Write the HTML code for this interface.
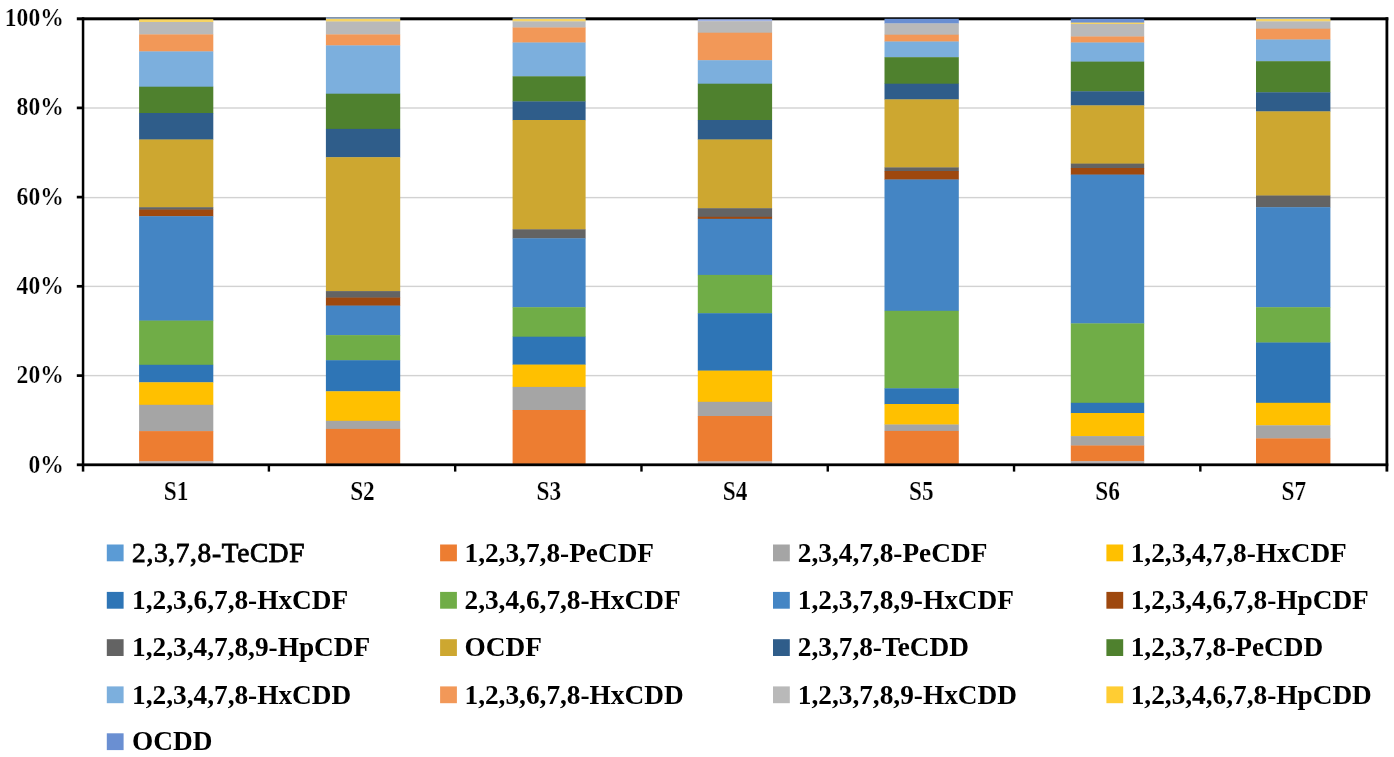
<!DOCTYPE html>
<html lang="en"><head><meta charset="utf-8"><title>PCDD/F congener profile</title>
<style>html,body{margin:0;padding:0;background:#fff}body{width:1394px;height:757px;overflow:hidden}svg{display:block}text{font-family:"Liberation Serif","Times New Roman",serif;font-weight:bold;fill:#000}</style>
</head><body>
<svg width="1394" height="757" viewBox="0 0 1394 757">
<rect width="1394" height="757" fill="#fff"/>
<g fill="#d2d2d2">
<rect x="84" y="107.30" width="1301" height="1.4"/>
<rect x="84" y="196.90" width="1301" height="1.4"/>
<rect x="84" y="285.70" width="1301" height="1.4"/>
<rect x="84" y="374.90" width="1301" height="1.4"/>
</g>
<g fill="#000">
<rect x="76.8" y="17.3" width="1311.5" height="3"/>
<rect x="81.8" y="17.3" width="2.5" height="454.3"/>
<rect x="1385.5" y="17.3" width="2.8" height="454.3"/>
<rect x="76.8" y="106.55" width="6" height="2.7"/>
<rect x="76.8" y="195.75" width="6" height="2.7"/>
<rect x="76.8" y="284.95" width="6" height="2.7"/>
<rect x="76.8" y="374.25" width="6" height="2.7"/>
<rect x="267.69" y="465" width="2.4" height="6.6"/>
<rect x="453.98" y="465" width="2.4" height="6.6"/>
<rect x="640.27" y="465" width="2.4" height="6.6"/>
<rect x="826.56" y="465" width="2.4" height="6.6"/>
<rect x="1012.85" y="465" width="2.4" height="6.6"/>
<rect x="1199.14" y="465" width="2.4" height="6.6"/>
</g>
<g>
<rect x="139.1" y="19.25" width="74.20" height="3.05" fill="#F6D465"/>
<rect x="139.1" y="22.0" width="74.20" height="12.70" fill="#B9B9B9"/>
<rect x="139.1" y="34.4" width="74.20" height="17.30" fill="#F29858"/>
<rect x="139.1" y="51.4" width="74.20" height="35.60" fill="#7CAFDD"/>
<rect x="139.1" y="86.7" width="74.20" height="26.60" fill="#4F812E"/>
<rect x="139.1" y="113.0" width="74.20" height="26.80" fill="#2F5D8A"/>
<rect x="139.1" y="139.5" width="74.20" height="68.00" fill="#CDA730"/>
<rect x="139.1" y="207.2" width="74.20" height="2.70" fill="#636363"/>
<rect x="139.1" y="209.6" width="74.20" height="6.90" fill="#9E480E"/>
<rect x="139.1" y="216.2" width="74.20" height="104.70" fill="#4485C4"/>
<rect x="139.1" y="320.6" width="74.20" height="44.50" fill="#70AD47"/>
<rect x="139.1" y="364.8" width="74.20" height="17.80" fill="#2E75B6"/>
<rect x="139.1" y="382.3" width="74.20" height="22.80" fill="#FFC000"/>
<rect x="139.1" y="404.8" width="74.20" height="26.60" fill="#A5A5A5"/>
<rect x="139.1" y="431.1" width="74.20" height="30.50" fill="#ED7D31"/>
<rect x="139.1" y="461.3" width="74.20" height="2.60" fill="#B4B0B4"/>
</g>
<g>
<rect x="325.9" y="17.2" width="74.30" height="2.00" fill="#8FA6C4"/>
<rect x="325.9" y="18.9" width="74.30" height="2.90" fill="#F6D465"/>
<rect x="325.9" y="21.5" width="74.30" height="13.20" fill="#B9B9B9"/>
<rect x="325.9" y="34.4" width="74.30" height="11.30" fill="#F29858"/>
<rect x="325.9" y="45.4" width="74.30" height="48.60" fill="#7CAFDD"/>
<rect x="325.9" y="93.7" width="74.30" height="35.50" fill="#4F812E"/>
<rect x="325.9" y="128.9" width="74.30" height="28.60" fill="#2F5D8A"/>
<rect x="325.9" y="157.2" width="74.30" height="134.20" fill="#CDA730"/>
<rect x="325.9" y="291.1" width="74.30" height="6.80" fill="#636363"/>
<rect x="325.9" y="297.6" width="74.30" height="8.30" fill="#9E480E"/>
<rect x="325.9" y="305.6" width="74.30" height="29.80" fill="#4485C4"/>
<rect x="325.9" y="335.1" width="74.30" height="25.40" fill="#70AD47"/>
<rect x="325.9" y="360.2" width="74.30" height="31.40" fill="#2E75B6"/>
<rect x="325.9" y="391.3" width="74.30" height="29.80" fill="#FFC000"/>
<rect x="325.9" y="420.8" width="74.30" height="8.40" fill="#A5A5A5"/>
<rect x="325.9" y="428.9" width="74.30" height="35.00" fill="#ED7D31"/>
</g>
<g>
<rect x="512.6" y="17.4" width="73.00" height="1.90" fill="#8FA6C4"/>
<rect x="512.6" y="19.0" width="73.00" height="2.70" fill="#F6D465"/>
<rect x="512.6" y="21.4" width="73.00" height="6.40" fill="#B9B9B9"/>
<rect x="512.6" y="27.5" width="73.00" height="15.30" fill="#F29858"/>
<rect x="512.6" y="42.5" width="73.00" height="34.10" fill="#7CAFDD"/>
<rect x="512.6" y="76.3" width="73.00" height="25.40" fill="#4F812E"/>
<rect x="512.6" y="101.4" width="73.00" height="18.90" fill="#2F5D8A"/>
<rect x="512.6" y="120.0" width="73.00" height="109.60" fill="#CDA730"/>
<rect x="512.6" y="229.3" width="73.00" height="9.30" fill="#636363"/>
<rect x="512.6" y="238.3" width="73.00" height="69.20" fill="#4485C4"/>
<rect x="512.6" y="307.2" width="73.00" height="29.80" fill="#70AD47"/>
<rect x="512.6" y="336.7" width="73.00" height="28.20" fill="#2E75B6"/>
<rect x="512.6" y="364.6" width="73.00" height="22.60" fill="#FFC000"/>
<rect x="512.6" y="386.9" width="73.00" height="23.40" fill="#A5A5A5"/>
<rect x="512.6" y="410.0" width="73.00" height="53.90" fill="#ED7D31"/>
</g>
<g>
<rect x="697.8" y="19.2" width="74.30" height="2.30" fill="#A3B4E6"/>
<rect x="697.8" y="21.2" width="74.30" height="11.80" fill="#B9B9B9"/>
<rect x="697.8" y="32.7" width="74.30" height="27.80" fill="#F29858"/>
<rect x="697.8" y="60.2" width="74.30" height="23.80" fill="#7CAFDD"/>
<rect x="697.8" y="83.7" width="74.30" height="36.60" fill="#4F812E"/>
<rect x="697.8" y="120.0" width="74.30" height="19.80" fill="#2F5D8A"/>
<rect x="697.8" y="139.5" width="74.30" height="69.00" fill="#CDA730"/>
<rect x="697.8" y="208.2" width="74.30" height="8.90" fill="#636363"/>
<rect x="697.8" y="216.8" width="74.30" height="2.30" fill="#9E480E"/>
<rect x="697.8" y="218.8" width="74.30" height="56.40" fill="#4485C4"/>
<rect x="697.8" y="274.9" width="74.30" height="38.60" fill="#70AD47"/>
<rect x="697.8" y="313.2" width="74.30" height="57.70" fill="#2E75B6"/>
<rect x="697.8" y="370.6" width="74.30" height="31.50" fill="#FFC000"/>
<rect x="697.8" y="401.8" width="74.30" height="14.50" fill="#A5A5A5"/>
<rect x="697.8" y="416.0" width="74.30" height="45.70" fill="#ED7D31"/>
<rect x="697.8" y="461.4" width="74.30" height="2.50" fill="#B4B0B4"/>
</g>
<g>
<rect x="884.5" y="18.8" width="74.30" height="4.90" fill="#6A8FD2"/>
<rect x="884.5" y="23.4" width="74.30" height="11.60" fill="#B9B9B9"/>
<rect x="884.5" y="34.7" width="74.30" height="7.10" fill="#F29858"/>
<rect x="884.5" y="41.5" width="74.30" height="16.00" fill="#7CAFDD"/>
<rect x="884.5" y="57.2" width="74.30" height="26.80" fill="#4F812E"/>
<rect x="884.5" y="83.7" width="74.30" height="16.00" fill="#2F5D8A"/>
<rect x="884.5" y="99.4" width="74.30" height="68.30" fill="#CDA730"/>
<rect x="884.5" y="167.4" width="74.30" height="3.90" fill="#636363"/>
<rect x="884.5" y="171.0" width="74.30" height="8.80" fill="#9E480E"/>
<rect x="884.5" y="179.5" width="74.30" height="131.60" fill="#4485C4"/>
<rect x="884.5" y="310.8" width="74.30" height="77.80" fill="#70AD47"/>
<rect x="884.5" y="388.3" width="74.30" height="16.00" fill="#2E75B6"/>
<rect x="884.5" y="404.0" width="74.30" height="20.80" fill="#FFC000"/>
<rect x="884.5" y="424.5" width="74.30" height="6.70" fill="#A5A5A5"/>
<rect x="884.5" y="430.9" width="74.30" height="33.00" fill="#ED7D31"/>
</g>
<g>
<rect x="1070.8" y="18.8" width="73.40" height="4.10" fill="#6A8FD2"/>
<rect x="1070.8" y="22.6" width="73.40" height="1.70" fill="#F6D465"/>
<rect x="1070.8" y="24.0" width="73.40" height="12.80" fill="#B9B9B9"/>
<rect x="1070.8" y="36.5" width="73.40" height="6.30" fill="#F29858"/>
<rect x="1070.8" y="42.5" width="73.40" height="19.40" fill="#7CAFDD"/>
<rect x="1070.8" y="61.6" width="73.40" height="30.00" fill="#4F812E"/>
<rect x="1070.8" y="91.3" width="73.40" height="14.40" fill="#2F5D8A"/>
<rect x="1070.8" y="105.4" width="73.40" height="58.50" fill="#CDA730"/>
<rect x="1070.8" y="163.6" width="73.40" height="4.70" fill="#636363"/>
<rect x="1070.8" y="168.0" width="73.40" height="6.90" fill="#9E480E"/>
<rect x="1070.8" y="174.6" width="73.40" height="149.10" fill="#4485C4"/>
<rect x="1070.8" y="323.4" width="73.40" height="79.70" fill="#70AD47"/>
<rect x="1070.8" y="402.8" width="73.40" height="10.50" fill="#2E75B6"/>
<rect x="1070.8" y="413.0" width="73.40" height="23.40" fill="#FFC000"/>
<rect x="1070.8" y="436.1" width="73.40" height="9.70" fill="#A5A5A5"/>
<rect x="1070.8" y="445.5" width="73.40" height="16.00" fill="#ED7D31"/>
<rect x="1070.8" y="461.2" width="73.40" height="2.70" fill="#B4B0B4"/>
</g>
<g>
<rect x="1256.0" y="17.4" width="74.40" height="1.90" fill="#8FA6C4"/>
<rect x="1256.0" y="19.0" width="74.40" height="2.70" fill="#F6D465"/>
<rect x="1256.0" y="21.4" width="74.40" height="7.60" fill="#B9B9B9"/>
<rect x="1256.0" y="28.7" width="74.40" height="11.10" fill="#F29858"/>
<rect x="1256.0" y="39.5" width="74.40" height="22.00" fill="#7CAFDD"/>
<rect x="1256.0" y="61.2" width="74.40" height="31.40" fill="#4F812E"/>
<rect x="1256.0" y="92.3" width="74.40" height="19.40" fill="#2F5D8A"/>
<rect x="1256.0" y="111.4" width="74.40" height="84.40" fill="#CDA730"/>
<rect x="1256.0" y="195.5" width="74.40" height="12.00" fill="#636363"/>
<rect x="1256.0" y="207.2" width="74.40" height="100.30" fill="#4485C4"/>
<rect x="1256.0" y="307.2" width="74.40" height="35.60" fill="#70AD47"/>
<rect x="1256.0" y="342.5" width="74.40" height="60.60" fill="#2E75B6"/>
<rect x="1256.0" y="402.8" width="74.40" height="22.80" fill="#FFC000"/>
<rect x="1256.0" y="425.3" width="74.40" height="13.40" fill="#A5A5A5"/>
<rect x="1256.0" y="438.4" width="74.40" height="25.50" fill="#ED7D31"/>
</g>
<rect x="76.8" y="463.4" width="1311.5" height="2.8" fill="#000"/>
<g font-size="23.6" text-anchor="end" stroke="#fff" stroke-width="0.22">
<text transform="translate(63.8,26.00) scale(1,1.11)">100%</text>
<text transform="translate(63.8,115.20) scale(1,1.11)">80%</text>
<text transform="translate(63.8,204.90) scale(1,1.11)">60%</text>
<text transform="translate(63.8,294.10) scale(1,1.11)">40%</text>
<text transform="translate(63.8,383.30) scale(1,1.11)">20%</text>
<text transform="translate(63.8,472.50) scale(1,1.11)">0%</text>
</g>
<g font-size="23.3" text-anchor="middle" stroke="#fff" stroke-width="0.22">
<text transform="translate(176.14,500.3) scale(1,1.13)">S1</text>
<text transform="translate(362.44,500.3) scale(1,1.13)">S2</text>
<text transform="translate(548.72,500.3) scale(1,1.13)">S3</text>
<text transform="translate(735.01,500.3) scale(1,1.13)">S4</text>
<text transform="translate(921.30,500.3) scale(1,1.13)">S5</text>
<text transform="translate(1107.60,500.3) scale(1,1.13)">S6</text>
<text transform="translate(1293.88,500.3) scale(1,1.13)">S7</text>
</g>
<g font-size="27.3">
<rect x="106.8" y="544.50" width="16.8" height="16.8" fill="#5B9BD5"/>
<text x="132.1" y="561.70" style="font-weight:normal;letter-spacing:0.68px" stroke="#000" stroke-width="0.85">2,3,7,8-TeCDF</text>
<rect x="440.1" y="544.50" width="16.8" height="16.8" fill="#ED7D31"/>
<text x="464.5" y="561.70">1,2,3,7,8-PeCDF</text>
<rect x="773.0" y="544.50" width="16.8" height="16.8" fill="#A5A5A5"/>
<text x="797.8" y="561.70">2,3,4,7,8-PeCDF</text>
<rect x="1106.4" y="544.50" width="16.8" height="16.8" fill="#FFC000"/>
<text x="1130.7" y="561.70">1,2,3,4,7,8-HxCDF</text>
<rect x="106.8" y="591.90" width="16.8" height="16.8" fill="#2E75B6"/>
<text x="132.1" y="609.10">1,2,3,6,7,8-HxCDF</text>
<rect x="440.1" y="591.90" width="16.8" height="16.8" fill="#70AD47"/>
<text x="464.5" y="609.10">2,3,4,6,7,8-HxCDF</text>
<rect x="773.0" y="591.90" width="16.8" height="16.8" fill="#4485C4"/>
<text x="797.8" y="609.10">1,2,3,7,8,9-HxCDF</text>
<rect x="1106.4" y="591.90" width="16.8" height="16.8" fill="#9E480E"/>
<text x="1130.7" y="609.10">1,2,3,4,6,7,8-HpCDF</text>
<rect x="106.8" y="639.20" width="16.8" height="16.8" fill="#636363"/>
<text x="132.1" y="656.40">1,2,3,4,7,8,9-HpCDF</text>
<rect x="440.1" y="639.20" width="16.8" height="16.8" fill="#CDA730"/>
<text x="464.5" y="656.40">OCDF</text>
<rect x="773.0" y="639.20" width="16.8" height="16.8" fill="#2F5D8A"/>
<text x="797.8" y="656.40">2,3,7,8-TeCDD</text>
<rect x="1106.4" y="639.20" width="16.8" height="16.8" fill="#4F812E"/>
<text x="1130.7" y="656.40">1,2,3,7,8-PeCDD</text>
<rect x="106.8" y="686.40" width="16.8" height="16.8" fill="#7CAFDD"/>
<text x="132.1" y="703.60">1,2,3,4,7,8-HxCDD</text>
<rect x="440.1" y="686.40" width="16.8" height="16.8" fill="#F29858"/>
<text x="464.5" y="703.60">1,2,3,6,7,8-HxCDD</text>
<rect x="773.0" y="686.40" width="16.8" height="16.8" fill="#B9B9B9"/>
<text x="797.8" y="703.60">1,2,3,7,8,9-HxCDD</text>
<rect x="1106.4" y="686.40" width="16.8" height="16.8" fill="#FFCD33"/>
<text x="1130.7" y="703.60">1,2,3,4,6,7,8-HpCDD</text>
<rect x="106.8" y="733.30" width="16.8" height="16.8" fill="#6A8FD2"/>
<text x="132.1" y="750.00">OCDD</text>
</g>
</svg></body></html>
